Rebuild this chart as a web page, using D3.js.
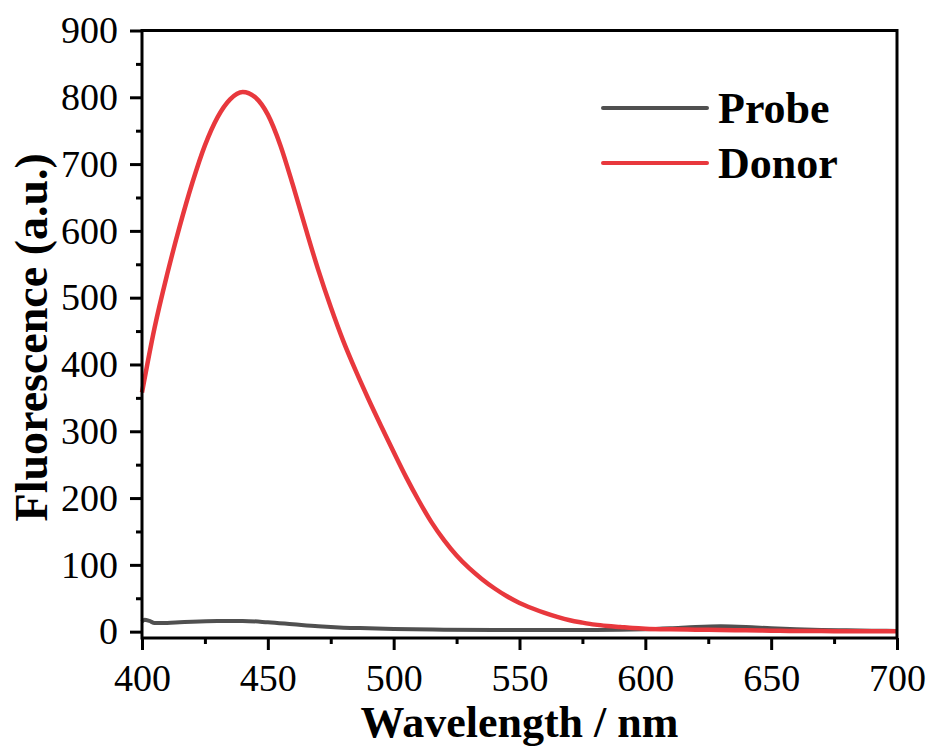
<!DOCTYPE html>
<html>
<head>
<meta charset="utf-8">
<script src="https://cdn.jsdelivr.net/npm/d3@7"></script>
<style>
  html, body { margin: 0; padding: 0; background: #fff; }
  #chart { width: 932px; height: 749px; }
  text { font-family: 'Liberation Serif', 'Times New Roman', serif; fill: #000; }
</style>
</head>
<body>
<div id="chart"></div>
<script>
// wavelength (nm) and intensities
const donorWavelength = [400, 405, 410, 415, 420, 425, 430, 435, 440, 445, 450, 455, 460, 465, 470, 475, 480, 485, 490, 495,
  500, 505, 510, 515, 520, 525, 530, 535, 540, 545, 550, 555, 560, 565, 570, 575, 580, 585, 590, 595,
  600, 610, 620, 630, 640, 650, 660, 670, 680, 690, 700];
const donorValues = [358, 455, 535, 607, 672, 728, 770, 797, 808, 800, 774, 728, 668, 604, 542, 486, 435, 390, 348, 308,
  269, 231, 196, 164, 137, 114, 95, 79, 65, 53, 43, 35, 28, 22, 17, 13.5, 10.5, 8.5, 7, 5.5,
  4.5, 3.5, 3, 2.5, 2, 1.5, 1, 1, 0.5, 0.5, 0.5];

const probeWavelength = [400, 401, 403, 405, 410, 415, 420, 430, 440, 450, 460, 470, 480, 490, 500, 520, 540, 560, 580,
  600, 610, 620, 630, 640, 650, 660, 670, 680, 690, 700];
const probeValues = [15, 18, 16, 13, 13, 14, 15, 16, 16, 14, 11, 8, 6, 5, 4, 3, 2.5, 2.5, 2.5,
  3.5, 5, 7, 8, 7, 5, 3.5, 2.5, 2, 1.5, 1];

const xTicks = [400, 450, 500, 550, 600, 650, 700];
const xMinorTicks = [425, 475, 525, 575, 625, 675];
const yTicks = [0, 100, 200, 300, 400, 500, 600, 700, 800, 900];
const yMinorTicks = [50, 150, 250, 350, 450, 550, 650, 750, 850];

const seriesNames = ['Probe', 'Donor'];
const seriesColors = ['#505050', '#e8383d'];

const margin = { top: 30.5, right: 35, bottom: 111, left: 142 };
const width = 932;
const height = 749;

const svg = d3.select('#chart')
  .append('svg')
  .attr('width', width)
  .attr('height', height);

const x = d3.scaleLinear()
  .domain([400, 700])
  .range([margin.left, width - margin.right]);

const y = d3.scaleLinear()
  .domain([-9.5, 900])
  .range([height - margin.bottom, margin.top]);

const line = d3.line()
  .x(d => x(d[0]))
  .y(d => y(d[1]))
  .curve(d3.curveMonotoneX);

const probe = d3.zip(probeWavelength, probeValues);
const donor = d3.zip(donorWavelength, donorValues);

svg.append('path')
  .datum(probe)
  .attr('fill', 'none')
  .attr('stroke', seriesColors[0])
  .attr('stroke-width', 4)
  .attr('d', line);

svg.append('path')
  .datum(donor)
  .attr('fill', 'none')
  .attr('stroke', seriesColors[1])
  .attr('stroke-width', 4.5)
  .attr('d', line);

// frame
svg.append('rect')
  .attr('x', x.range()[0])
  .attr('y', y.range()[1])
  .attr('width', x.range()[1] - x.range()[0])
  .attr('height', y.range()[0] - y.range()[1])
  .attr('fill', 'none')
  .attr('stroke', '#000')
  .attr('stroke-width', 3);

const yBottom = y.range()[0];

svg.append('g')
  .attr('transform', `translate(0, ${yBottom})`)
  .call(d3.axisBottom(x).tickValues(xTicks).tickSize(12).tickSizeOuter(0).tickPadding(14));

svg.append('g')
  .attr('transform', `translate(0, ${yBottom})`)
  .call(d3.axisBottom(x).tickValues(xMinorTicks).tickSize(6).tickSizeOuter(0).tickFormat(''));

svg.append('g')
  .attr('transform', `translate(${margin.left}, 0)`)
  .call(d3.axisLeft(y).tickValues(yTicks).tickSize(12).tickSizeOuter(0).tickPadding(12));

svg.append('g')
  .attr('transform', `translate(${margin.left}, 0)`)
  .call(d3.axisLeft(y).tickValues(yMinorTicks).tickSize(6).tickSizeOuter(0).tickFormat(''));

svg.selectAll('.domain').remove();
svg.selectAll('.tick line').attr('stroke', '#000').attr('stroke-width', 3);
svg.selectAll('.tick text')
  .style('font-family', "'Liberation Serif', 'Times New Roman', serif")
  .style('font-size', '38px')
  .attr('fill', '#000');

// axis titles
svg.append('text')
  .attr('x', (x.range()[0] + x.range()[1]) / 2)
  .attr('y', 737)
  .attr('text-anchor', 'middle')
  .style('font-size', '44px')
  .style('font-weight', 'bold')
  .text('Wavelength / nm');

svg.append('text')
  .attr('transform', `translate(47, ${(y.range()[0] + y.range()[1]) / 2 + 3}) rotate(-90)`)
  .attr('text-anchor', 'middle')
  .style('font-size', '46px')
  .style('font-weight', 'bold')
  .text('Fluorescence (a.u.)');

// legend
const legend = svg.append('g');
seriesNames.forEach((name, i) => {
  const ly = 108 + i * 55;
  legend.append('line')
    .attr('x1', 603).attr('x2', 707)
    .attr('y1', ly).attr('y2', ly)
    .attr('stroke', seriesColors[i])
    .attr('stroke-width', 4)
    .attr('stroke-linecap', 'round');
  legend.append('text')
    .attr('x', 718)
    .attr('y', ly + 15)
    .style('font-size', '44px')
    .style('font-weight', 'bold')
    .text(name);
});
</script>
</body>
</html>
